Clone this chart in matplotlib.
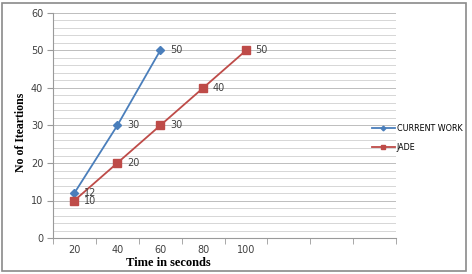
import numpy as np
import matplotlib.pyplot as plt
from matplotlib.patches import Rectangle

# categories on the x axis (Excel-style category axis, 3 empty slots at end)
categories = ['20', '40', '60', '80', '100', '', '', '']
current_work = [12, 30, 50]
jade = [10, 20, 30, 40, 50]

blue = '#4A7EBB'
red = '#BE4B48'

fig = plt.figure(figsize=(4.72, 2.74), dpi=100)
ax = fig.add_axes([53/472, 36/274, 343/472, 225/274])

# outer frame of the picture
fig.patches.append(Rectangle((2/472, 3/274), 464/472, 268/274, transform=fig.transFigure,
                             fill=False, edgecolor='#8a8a8a', linewidth=1.2))

xpos = np.arange(len(categories))

ax.plot(xpos[:len(current_work)], current_work, color=blue, marker='D', markersize=4,
        linewidth=1.3, label='CURRENT WORK')
ax.plot(xpos[:len(jade)], jade, color=red, marker='s', markersize=6,
        linewidth=1.3, label='JADE')

for x, v in zip(xpos, current_work):
    ax.annotate(str(v), (x, v), xytext=(7, 0), textcoords='offset points',
                va='center', fontsize=7, color='#404040')
for x, v in zip(xpos, jade):
    ax.annotate(str(v), (x, v), xytext=(7, 0), textcoords='offset points',
                va='center', fontsize=7, color='#404040')

ax.set_xlim(-0.5, len(categories) - 0.5)
ax.set_ylim(0, 60)

# grid every 2 units
for y in np.arange(2, 61, 2):
    ax.axhline(y, color='#d6d6d6' if y % 10 else '#bdbdbd', linewidth=0.7, zorder=0)

ax.set_yticks(np.arange(0, 61, 10))
ax.set_xticks(xpos)
ax.set_xticklabels(categories)
ax.set_xticks(np.arange(-0.5, len(categories)), minor=True)
ax.tick_params(axis='x', which='major', length=0, pad=5, labelsize=7, labelcolor='#404040')
ax.tick_params(axis='x', which='minor', length=4, color='#9a9a9a')
ax.tick_params(axis='y', length=4, color='#9a9a9a', labelsize=7, labelcolor='#404040', pad=3)

for s in ['top', 'right']:
    ax.spines[s].set_visible(False)
for s in ['left', 'bottom']:
    ax.spines[s].set_color('#9a9a9a')

ax.set_xlabel('Time in seconds', fontsize=9, fontweight='bold', family='Liberation Serif')
ax.xaxis.set_label_coords((168 - 53) / 343, -19 / 225)
ax.set_ylabel('No of Iteartions', fontsize=8.5, fontweight='bold', family='Liberation Serif')
ax.yaxis.set_label_coords(-26 / 343, (238 - 132) / 225)

ax.legend(loc='center left', bbox_to_anchor=(0.93, 0.445), frameon=False, fontsize=5.8,
          handlelength=2.8, handletextpad=0.25, labelspacing=1.3, markerscale=0.6,
          borderaxespad=0, borderpad=0)

fig.savefig('out.png', dpi=100)
